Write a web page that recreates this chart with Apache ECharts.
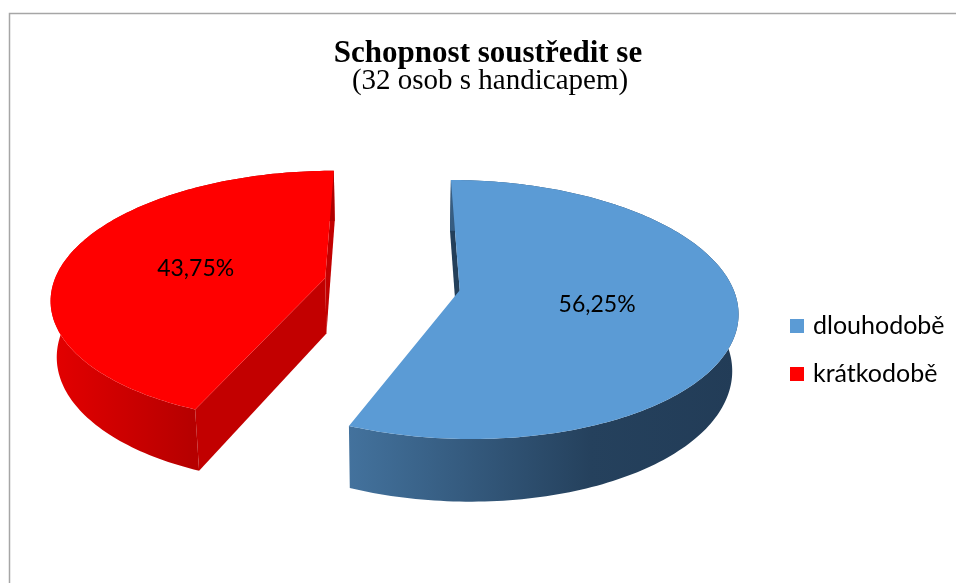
<!DOCTYPE html>
<html>
<head>
<meta charset="utf-8">
<title>Schopnost soustředit se</title>
<script src="https://cdn.jsdelivr.net/npm/echarts@6/dist/echarts.min.js"></script>
<style>
    html, body { margin: 0; padding: 0; background: #fff; }
    #chart { width: 956px; height: 583px; }
</style>
</head>
<body>
<div id="chart"></div>
<script>
// data
const categories = ['dlouhodobě', 'krátkodobě'];
const shares = [56.25, 43.75]; // % z 32 osob

// barvy: horní plocha, boční plášť (přechod), řezná stěna
const topColors = ['#5b9bd5', '#ff0000'];
const sideColors = [
    [['#43729d', 0], ['#25415d', 0.62], ['#223c57', 1]],
    [['#e40000', 0], ['#b60000', 0.5], ['#b00000', 1]]
];
const wallColors = ['#233f5a', '#c20000'];

// 3D pohled (jednotky = poloměr koláče)
const view = {
    cx: 392, cy: 284,      // střed koláče na plátně
    scale: 272,            // poloměr v px v hloubce středu
    elev: 27.3 * Math.PI / 180,
    persp: 0.167,          // R / vzdálenost kamery
    depth: 0.235,          // tloušťka koláče
    explode: 0.252,        // odsunutí výsečí
    labelR: 0.5
};

const project = (x, y, z) => {
    const ca = Math.cos(view.elev), sa = Math.sin(view.elev);
    const yc = y * ca + z * sa;
    const zc = -y * sa + z * ca;
    const s = 1 / (1 + view.persp * zc);
    return [view.cx + view.scale * x * s, view.cy - view.scale * yc * s];
};

const camera = [0, Math.sin(view.elev) / view.persp, -Math.cos(view.elev) / view.persp];

const renderSlice = (params, api) => {
    const i = params.seriesIndex;
    const total = shares.reduce((a, b) => a + b, 0);
    let before = 0;
    for (let k = 0; k < i; k++) before += shares[k];
    const value = api.value(0);
    // úhly po směru hodinových ručiček od "12 hodin"
    const a0 = before / total * Math.PI * 2;
    const a1 = (before + value) / total * Math.PI * 2;
    const mid = (a0 + a1) / 2;
    const ox = view.explode * Math.sin(mid);
    const oz = view.explode * Math.cos(mid);
    const pt = (r, a, y) => project(ox + r * Math.sin(a), y, oz + r * Math.cos(a));

    const steps = Math.max(12, Math.ceil((a1 - a0) / 0.02));
    const topArc = [];
    const botArc = [];
    for (let k = 0; k <= steps; k++) {
        const a = a0 + (a1 - a0) * k / steps;
        topArc.push(pt(1, a, 0));
        botArc.push(pt(1, a, -view.depth));
    }
    const cTop = pt(0, 0, 0);
    const cBot = pt(0, 0, -view.depth);

    const children = [];

    // řezné stěny – jen ty, které míří ke kameře
    const walls = [
        { a: a0, n: [-Math.cos(a0), Math.sin(a0)] },
        { a: a1, n: [Math.cos(a1), -Math.sin(a1)] }
    ];
    walls.forEach((w) => {
        const px = ox + 0.5 * Math.sin(w.a);
        const pz = oz + 0.5 * Math.cos(w.a);
        const dot = w.n[0] * (camera[0] - px) + w.n[1] * (camera[2] - pz);
        if (dot <= 0) return;
        children.push({
            type: 'polygon',
            shape: { points: [cTop, pt(1, w.a, 0), pt(1, w.a, -view.depth), cBot] },
            style: { fill: wallColors[i] }
        });
    });

    // boční plášť
    children.push({
        type: 'polygon',
        shape: { points: topArc.concat(botArc.slice().reverse()) },
        style: {
            fill: new echarts.graphic.LinearGradient(0, 0, 1, 0,
                sideColors[i].map(([color, offset]) => ({ offset, color })))
        }
    });

    // horní plocha
    children.push({
        type: 'polygon',
        shape: { points: [cTop].concat(topArc) },
        style: { fill: topColors[i] }
    });

    // popisek
    const lp = pt(view.labelR, mid, 0);
    children.push({
        type: 'text',
        x: lp[0], y: lp[1] + 2,
        style: {
            text: value.toFixed(2).replace('.', ',') + '%',
            fill: '#000',
            font: '23px Lato',
            align: 'center',
            verticalAlign: 'middle'
        }
    });

    return { type: 'group', children };
};

const chart = echarts.init(document.getElementById('chart'));
const option = {
    animation: false,
    title: [
        {
            text: 'Schopnost soustředit se',
            left: 488,
            textAlign: 'center',
            top: 38,
            padding: 0,
            textStyle: { fontFamily: 'Liberation Serif', fontWeight: 'bold', fontSize: 31, color: '#000', lineHeight: 32 }
        },
        {
            text: '(32 osob s handicapem)',
            left: 490,
            textAlign: 'center',
            top: 65,
            padding: 0,
            textStyle: { fontFamily: 'Liberation Serif', fontWeight: 'normal', fontSize: 29, color: '#000', lineHeight: 32 }
        }
    ],
    legend: {
        data: categories,
        orient: 'vertical',
        left: 790,
        top: 313,
        padding: 0,
        icon: 'rect',
        itemWidth: 14,
        itemHeight: 14,
        itemGap: 22,
        textStyle: { fontFamily: 'Lato', fontSize: 25, color: '#000', lineHeight: 26, padding: [0, 0, 0, 4] }
    },
    graphic: [
        {
            type: 'polyline',
            shape: { points: [[9.5, 583], [9.5, 13.5], [956, 13.5]] },
            style: { stroke: '#a6a6a6', lineWidth: 1.5, fill: null },
            silent: true
        }
    ],
    series: categories.map((name, i) => ({
        name,
        type: 'custom',
        coordinateSystem: 'none',
        itemStyle: { color: topColors[i] },
        renderItem: renderSlice,
        data: [{ name, value: [shares[i]] }]
    }))
};
chart.setOption(option);
</script>
</body>
</html>
